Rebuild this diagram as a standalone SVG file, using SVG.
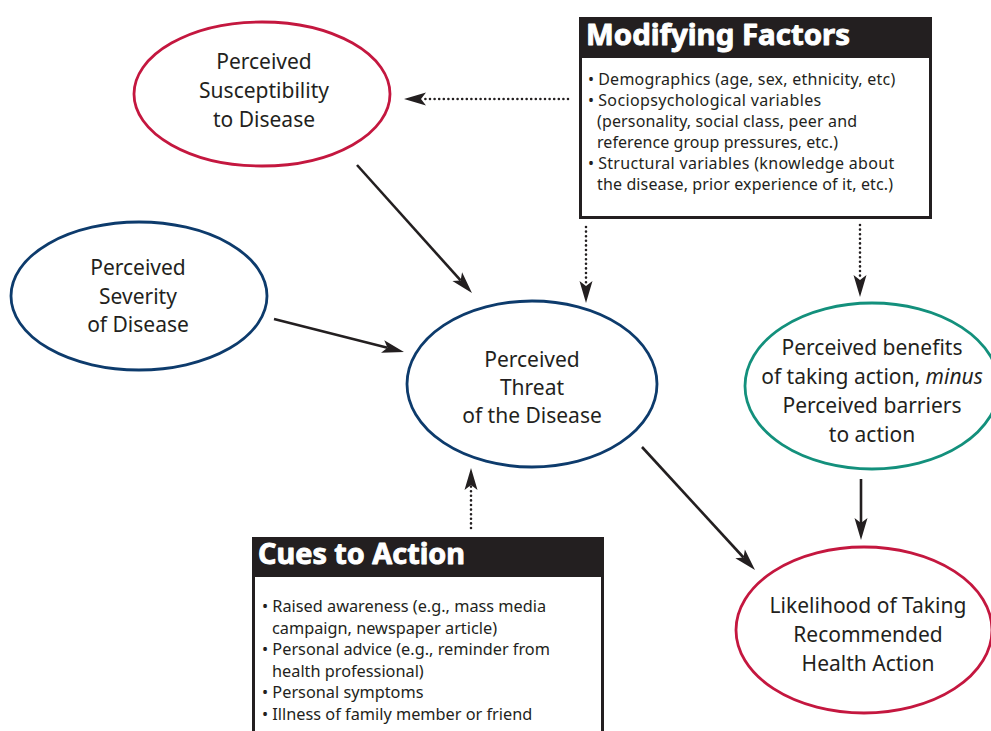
<svg xmlns="http://www.w3.org/2000/svg" width="991" height="731" viewBox="0 0 991 731">
  <defs>
    <style>
      .node-red { fill: #ffffff; stroke: #c4173f; stroke-width: 2.8; }
      .node-navy { fill: #ffffff; stroke: #0d3b6c; stroke-width: 2.8; }
      .node-teal { fill: #ffffff; stroke: #13907c; stroke-width: 2.8; }
      .label { font-family: "Noto Sans", "Open Sans", sans-serif; font-size: 21px; fill: #231f20; text-anchor: middle; }
      .box { fill: #ffffff; stroke: #231f20; stroke-width: 3; }
      .box-head { fill: #231f20; }
      .head-text { font-family: "Noto Sans", "Open Sans", sans-serif; font-weight: bold; font-size: 28px; fill: #ffffff; stroke: #ffffff; stroke-width: 0.9; stroke-linejoin: round; }
      .item { font-family: "Noto Sans", "Open Sans", sans-serif; font-size: 16px; fill: #231f20; }
      .item-lg { font-family: "Noto Sans", "Open Sans", sans-serif; font-size: 16.3px; fill: #231f20; }
      .solid { fill: none; stroke: #231f20; stroke-width: 2.6; marker-end: url(#head); }
      .dotted { fill: none; stroke: #231f20; stroke-width: 2.6; stroke-linecap: round; stroke-dasharray: 0 4.6; marker-end: url(#head); }
    </style>
    <!-- barbed arrowhead; origin sits at the notch so lines end there -->
    <marker id="head" markerUnits="userSpaceOnUse" viewBox="-6 -8 24 16" markerWidth="24" markerHeight="16" refX="0" refY="0" orient="auto" overflow="visible">
      <path d="M17,0 L-5,-6.5 L0,0 L-5,6.5 Z" fill="#231f20"/>
    </marker>
  </defs>

  <rect width="991" height="731" fill="#ffffff"/>

  <!-- connectors -->
  <g id="connectors">
    <line class="dotted" x1="568" y1="99" x2="421" y2="99"/>
    <line class="dotted" x1="586" y1="227" x2="586" y2="286"/>
    <line class="dotted" x1="860" y1="225" x2="860" y2="280"/>
    <line class="dotted" x1="471" y1="528" x2="471" y2="485"/>
    <line class="solid" x1="357" y1="165" x2="460.6" y2="280.4"/>
    <line class="solid" x1="274" y1="319" x2="387.5" y2="347.8"/>
    <line class="solid" x1="642" y1="447" x2="743.5" y2="557.5"/>
    <line class="solid" x1="861" y1="479" x2="861" y2="523"/>
  </g>

  <g id="susceptibility">
    <ellipse class="node-red" cx="262" cy="94" rx="128" ry="72"/>
    <text class="label" x="264" y="69">Perceived</text>
    <text class="label" x="264" y="98">Susceptibility</text>
    <text class="label" x="264" y="127">to Disease</text>
  </g>

  <g id="severity">
    <ellipse class="node-navy" cx="139" cy="296" rx="128" ry="74"/>
    <text class="label" x="138" y="275">Perceived</text>
    <text class="label" x="138" y="303.5">Severity</text>
    <text class="label" x="138" y="332">of Disease</text>
  </g>

  <g id="threat">
    <ellipse class="node-navy" cx="532" cy="384" rx="125" ry="83"/>
    <text class="label" x="532" y="367">Perceived</text>
    <text class="label" x="532" y="395">Threat</text>
    <text class="label" x="532" y="423">of the Disease</text>
  </g>

  <g id="benefits">
    <ellipse class="node-teal" cx="872" cy="386" rx="127" ry="83"/>
    <text class="label" x="872" y="355">Perceived benefits</text>
    <text class="label" x="872" y="384">of taking action, <tspan font-style="italic">minus</tspan></text>
    <text class="label" x="872" y="413">Perceived barriers</text>
    <text class="label" x="872" y="442">to action</text>
  </g>

  <g id="likelihood">
    <ellipse class="node-red" cx="864" cy="630" rx="128" ry="83"/>
    <text class="label" x="868" y="613">Likelihood of Taking</text>
    <text class="label" x="868" y="642">Recommended</text>
    <text class="label" x="868" y="671">Health Action</text>
  </g>

  <g id="modifying-factors">
    <rect class="box" x="580.5" y="18.5" width="350" height="199"/>
    <rect class="box-head" x="579" y="17" width="353" height="41"/>
    <text class="head-text" x="586" y="45" textLength="264" lengthAdjust="spacingAndGlyphs">Modifying Factors</text>
    <text class="item" x="588" y="85">• <tspan textLength="297">Demographics (age, sex, ethnicity, etc)</tspan></text>
    <text class="item" x="588" y="106">• <tspan textLength="223">Sociopsychological variables</tspan></text>
    <text class="item" x="597" y="127" textLength="260">(personality, social class, peer and</text>
    <text class="item" x="597" y="148" textLength="241">reference group pressures, etc.)</text>
    <text class="item" x="588" y="169">• <tspan textLength="296">Structural variables (knowledge about</tspan></text>
    <text class="item" x="597" y="190" textLength="296">the disease, prior experience of it, etc.)</text>
  </g>

  <g id="cues-to-action">
    <rect class="box" x="253.5" y="538.5" width="349" height="210"/>
    <rect class="box-head" x="252" y="537" width="352" height="40"/>
    <text class="head-text" x="258" y="564" font-size="27" textLength="207" lengthAdjust="spacingAndGlyphs">Cues to Action</text>
    <text class="item-lg" x="262" y="612">• Raised awareness (e.g., mass media</text>
    <text class="item-lg" x="272" y="633.5">campaign, newspaper article)</text>
    <text class="item-lg" x="262" y="655">• Personal advice (e.g., reminder from</text>
    <text class="item-lg" x="272" y="676.5">health professional)</text>
    <text class="item-lg" x="262" y="698">• Personal symptoms</text>
    <text class="item-lg" x="262" y="719.5">• Illness of family member or friend</text>
  </g>
</svg>
